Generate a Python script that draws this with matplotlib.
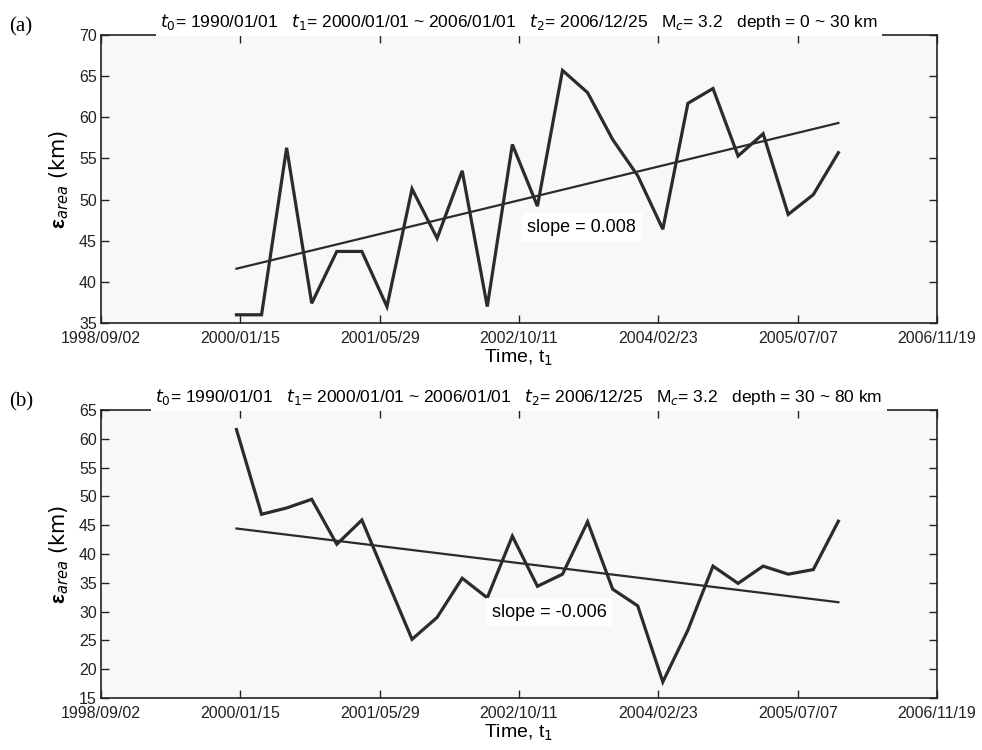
import numpy as np
import pandas as pd
import matplotlib
matplotlib.use('Agg')
import matplotlib.pyplot as plt
import matplotlib.dates as mdates

# t1 sampled every 90 days from 2000/01/01
t1_dates = pd.date_range('2000-01-01', periods=25, freq='90D')

# epsilon_area (km)
eps_a = [36.0, 36.0, 56.3, 37.4, 43.7, 43.7, 37.0, 51.3, 45.3, 53.5, 37.0, 56.7, 49.2,
         65.7, 63.0, 57.3, 52.9, 46.4, 61.7, 63.5, 55.3, 58.0, 48.2, 50.6, 55.7]
eps_b = [61.6, 46.9, 48.0, 49.5, 41.7, 45.9, 35.5, 25.2, 29.0, 35.8, 32.4, 43.1, 34.4,
         36.5, 45.6, 33.9, 31.0, 17.8, 26.8, 37.9, 34.9, 37.9, 36.5, 37.3, 45.7]

titles = [r'$t_0$= 1990/01/01   $t_1$= 2000/01/01 ~ 2006/01/01   $t_2$= 2006/12/25   M$_c$= 3.2   depth = 0 ~ 30 km',
          r'$t_0$= 1990/01/01   $t_1$= 2000/01/01 ~ 2006/01/01   $t_2$= 2006/12/25   M$_c$= 3.2   depth = 30 ~ 80 km']
panel_tags = ['(a)', '(b)']
ylims = [(35, 70), (15, 65)]
tick_dates = ['1998-09-02', '2000-01-15', '2001-05-29', '2002-10-11',
              '2004-02-23', '2005-07-07', '2006-11-19']
# where the slope note sits (left edge date, value)
slope_pos = [('2002-11-10', 46.6), ('2002-07-05', 29.9)]

narrow = ['Liberation Sans Narrow', 'Liberation Sans', 'DejaVu Sans']
plt.rcParams['mathtext.fontset'] = 'custom'
plt.rcParams['mathtext.rm'] = 'Liberation Sans Narrow'
plt.rcParams['mathtext.it'] = 'Liberation Sans Narrow:italic'
plt.rcParams['mathtext.bf'] = 'Liberation Sans:bold'

fig = plt.figure(figsize=(9.82, 7.5), dpi=100)
boxes = [[0.1029, 0.5693, 0.8513, 0.384], [0.1029, 0.0693, 0.8513, 0.384]]
line_col = '#2b2b2b'
xnum = mdates.date2num(t1_dates)

for k, eps in enumerate([eps_a, eps_b]):
    ax = fig.add_axes(boxes[k])
    ax.set_facecolor('#f8f8f8')
    ax.plot(t1_dates, eps, color=line_col, lw=2.3, solid_joinstyle='miter')

    # least squares trend (slope per day)
    p = np.polyfit(xnum - xnum[0], eps, 1)
    ax.plot(t1_dates, np.polyval(p, xnum - xnum[0]), color=line_col, lw=1.6)

    ax.set_xlim(pd.Timestamp(tick_dates[0]), pd.Timestamp(tick_dates[-1]))
    ax.set_ylim(*ylims[k])
    ax.set_xticks([pd.Timestamp(d) for d in tick_dates])
    ax.xaxis.set_major_formatter(mdates.DateFormatter('%Y/%m/%d'))
    ax.set_yticks(np.arange(ylims[k][0], ylims[k][1] + 1, 5))
    ax.tick_params(direction='in', length=6, width=1, top=True, right=True,
                   labelsize=11.5, colors='#222222')
    ax.tick_params(axis='x', pad=6)
    ax.tick_params(axis='y', pad=3)
    for lab in ax.get_xticklabels() + ax.get_yticklabels():
        lab.set_family(narrow)
    for s in ax.spines.values():
        s.set_linewidth(1.2)
        s.set_color('#222222')

    ax.set_xlabel(r'Time, t$_1$', family=narrow, fontsize=14, labelpad=1)
    ax.set_ylabel(r'$\boldsymbol{\varepsilon}_{area}$ (km)', fontsize=15, labelpad=6)
    ax.set_title(titles[k], family=narrow, fontsize=12.5, pad=6,
                 bbox=dict(facecolor='white', edgecolor='none', pad=3))
    ax.text(-0.11, 1.03, panel_tags[k], transform=ax.transAxes,
            family='Liberation Serif', fontsize=15, va='center')

    slope_txt = 'slope = %.3f' % p[0]
    ax.text(pd.Timestamp(slope_pos[k][0]), slope_pos[k][1], slope_txt,
            family='Liberation Sans', fontsize=13, va='center',
            bbox=dict(facecolor='white', edgecolor='none', pad=4))

fig.savefig('out.png', dpi=100)
